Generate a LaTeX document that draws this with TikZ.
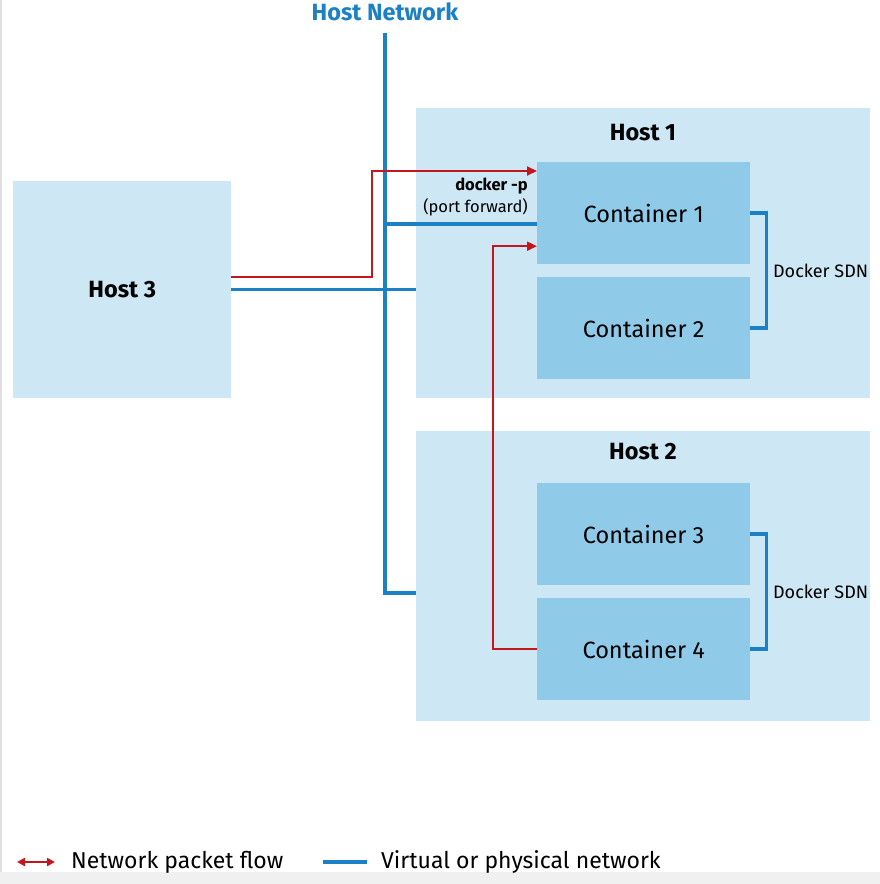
\documentclass[tikz,border=0pt]{standalone}
\usepackage{fontspec}
\setmainfont{Fira Sans}
\usetikzlibrary{arrows.meta}
\definecolor{hostbg}{HTML}{CDE7F5}
\definecolor{ctrbg}{HTML}{8FCAE9}
\definecolor{netblue}{HTML}{1B80C4}
\definecolor{flowred}{HTML}{C4161C}
\begin{document}
\begin{tikzpicture}[x=1pt,y=-1pt,
    host/.style={fill=hostbg,inner sep=0pt,anchor=north west},
    ctr/.style={fill=ctrbg,inner sep=0pt,anchor=north west,
        minimum width=213pt,minimum height=102pt,font=\fontsize{23.5}{26}\selectfont},
    hostlbl/.style={font=\fontsize{23.5}{26}\selectfont\bfseries},
    net/.style={draw=netblue,line width=3.5pt},
    flow/.style={draw=flowred,line width=2pt},
    tip/.style={-{Triangle[length=10pt,width=9pt]}},
    sdn/.style={font=\fontsize{18}{20}\selectfont,right,inner sep=5pt}]
    \useasboundingbox (0,0) rectangle (880,884);
    \fill[gray!12] (0,872) rectangle (880,884);
    \draw[gray!25,line width=2pt] (1,0) -- (1,872);
    % hosts
    \node[host,minimum width=454pt,minimum height=290pt] (h1) at (416,108) {};
    \node[host,minimum width=454pt,minimum height=290pt] (h2) at (416,431) {};
    \node[host,minimum width=218pt,minimum height=217pt] (h3) at (13,181) {};
    \node[hostlbl] (h1lbl) at (643,133) {Host 1};
    \node[hostlbl] (h2lbl) at (643,452) {Host 2};
    \node[hostlbl] (h3lbl) at (h3) {Host 3};
    % containers
    \node[ctr] (c1) at (537,162) {Container 1};
    \node[ctr] (c2) at (537,277) {Container 2};
    \node[ctr] (c3) at (537,483) {Container 3};
    \node[ctr] (c4) at (537,598) {Container 4};
    % host network
    \node[font=\fontsize{23.5}{26}\selectfont\bfseries,text=netblue] (hn) at (385,12) {Host Network};
    \coordinate (nettop) at (385,33);
    \coordinate (netbot) at (385,593);
    \draw[net] (nettop) -- (netbot) -- (netbot -| h2.west);
    \draw[net] (h3.east) -- (h3.east -| h1.west);
    \draw[net] ([yshift=-11pt]c1.west) -- ([yshift=-11pt]c1.west -| nettop);
    % docker sdn
    \draw[net] (c1.east) -- ++(16,0) |- node[sdn,pos=0.25] {Docker SDN} (c2.east);
    \draw[net] (c3.east) -- ++(16,0) |- node[sdn,pos=0.25] {Docker SDN} (c4.east);
    % packet flow
    \coordinate (fwd) at (372,171);
    \draw[flow,tip] ([yshift=13pt]h3.east) -| (fwd) -- (fwd -| c1.west);
    \draw[flow,tip] (c4.west) -- ++(-44,0) |- ([yshift=-33pt]c1.west);
    \node[align=right,anchor=east,inner sep=0pt,font=\fontsize{16.5}{22}\selectfont] (pf) at (528,197)
        {\textbf{docker -p}\\(port forward)};
    % legend
    \node[anchor=west,inner sep=0pt,font=\fontsize{23}{26}\selectfont] (lg1) at (71,862) {Network packet flow};
    \node[anchor=west,inner sep=0pt,font=\fontsize{23}{26}\selectfont] (lg2) at (381,862) {Virtual or physical network};
    \draw[flow,{Triangle[length=8pt,width=8pt]}-{Triangle[length=8pt,width=8pt]}]
        ([xshift=-54pt]lg1.west) -- ([xshift=-16pt]lg1.west);
    \draw[net] ([xshift=-58pt]lg2.west) -- ([xshift=-14pt]lg2.west);
\end{tikzpicture}
\end{document}
